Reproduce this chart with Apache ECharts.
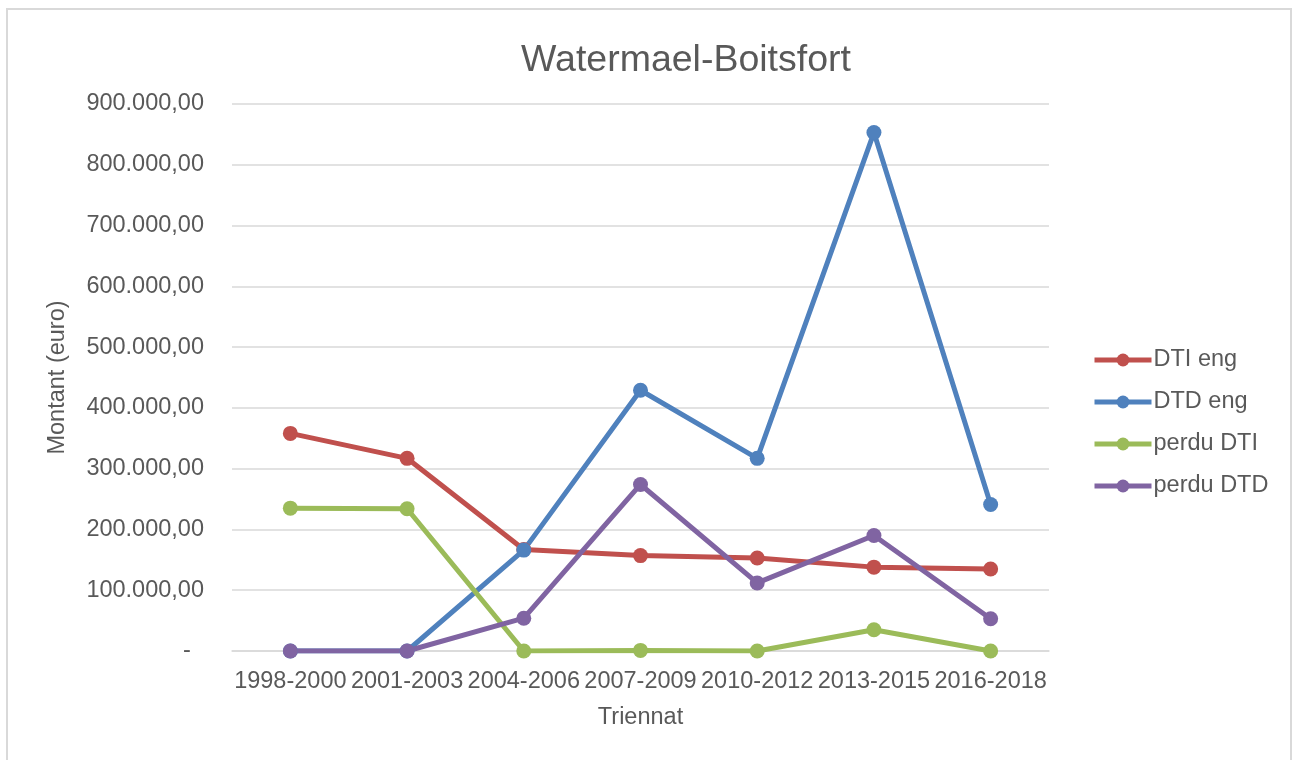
<!DOCTYPE html>
<html>
<head>
<meta charset="utf-8">
<title>Watermael-Boitsfort</title>
<script src="https://cdn.jsdelivr.net/npm/echarts@6/dist/echarts.min.js"></script>
<style>
  html, body { margin: 0; padding: 0; background: #ffffff; }
  #chart { width: 1295px; height: 760px; }
</style>
</head>
<body>
<div id="chart"></div>
<script>
// Three-year periods on the horizontal axis
const categories = ['1998-2000', '2001-2003', '2004-2006', '2007-2009', '2010-2012', '2013-2015', '2016-2018'];

// Amounts in euro per period
const dtiEng   = [358000, 317000, 167000, 157000, 153000, 138000, 135000];
const dtdEng   = [0, 0, 166000, 429000, 317000, 853000, 241000];
const perduDti = [235000, 234000, 0, 1000, 0, 35000, 0];
const perduDtd = [0, 0, 54000, 274000, 112000, 190000, 53000];

const seriesNames  = ['DTI eng', 'DTD eng', 'perdu DTI', 'perdu DTD'];
const seriesData   = [dtiEng, dtdEng, perduDti, perduDtd];
const seriesColors = ['#C0504D', '#4F81BD', '#9BBB59', '#8064A2'];

const FONT = "'Liberation Sans', Arial, sans-serif";
const TEXT = '#595959';
const GRID = '#D9D9D9';

// Belgian-style number format: 900.000,00 ; zero shown as a dash
function formatAmount(v) {
  if (v === 0) return '-  ';
  const s = Math.round(v).toString().replace(/\B(?=(\d{3})+(?!\d))/g, '.');
  return s + ',00';
}

const chart = echarts.init(document.getElementById('chart'), null, { renderer: 'canvas' });

chart.setOption({
  backgroundColor: '#ffffff',
  animation: false,
  title: {
    text: 'Watermael-Boitsfort',
    left: 681,
    top: 37,
    textAlign: 'center',
    textStyle: { fontFamily: FONT, fontSize: 37.5, fontWeight: 'normal', color: TEXT }
  },
  graphic: [{
    type: 'rect',
    shape: { x: 7, y: 9, width: 1284, height: 800 },
    style: { fill: 'none', stroke: GRID, lineWidth: 2 },
    silent: true
  }],
  legend: {
    orient: 'vertical',
    left: 1087,
    top: 343,
    itemWidth: 57,
    itemHeight: 16,
    itemGap: 18,
    data: seriesNames,
    lineStyle: { width: 5 },
    textStyle: { fontFamily: FONT, fontSize: 23.5, color: TEXT, padding: [0, 0, 0, -3] }
  },
  grid: { left: 232, right: 246, top: 104, bottom: 109 },
  xAxis: {
    type: 'category',
    data: categories,
    boundaryGap: true,
    name: 'Triennat',
    nameLocation: 'middle',
    nameGap: 55,
    nameTextStyle: { fontFamily: FONT, fontSize: 23.5, color: TEXT },
    axisLine: { show: true, lineStyle: { color: GRID, width: 1.5 } },
    axisTick: { show: false },
    axisLabel: { fontFamily: FONT, fontSize: 23.5, color: TEXT, margin: 19, interval: 0 }
  },
  yAxis: {
    type: 'value',
    min: 0,
    max: 900000,
    interval: 100000,
    name: 'Montant (euro)',
    nameLocation: 'middle',
    nameGap: 162,
    nameTextStyle: { fontFamily: FONT, fontSize: 23.5, color: TEXT },
    axisLine: { show: false },
    axisTick: { show: false },
    splitLine: { show: true, lineStyle: { color: GRID, width: 1.5 } },
    axisLabel: { fontFamily: FONT, fontSize: 23.5, color: TEXT, margin: 28, formatter: formatAmount }
  },
  series: seriesNames.map((name, i) => ({
    name: name,
    type: 'line',
    data: seriesData[i],
    color: seriesColors[i],
    symbol: 'circle',
    symbolSize: 15,
    showSymbol: true,
    lineStyle: { width: 5, color: seriesColors[i] },
    itemStyle: { color: seriesColors[i] }
  }))
});
</script>
</body>
</html>
